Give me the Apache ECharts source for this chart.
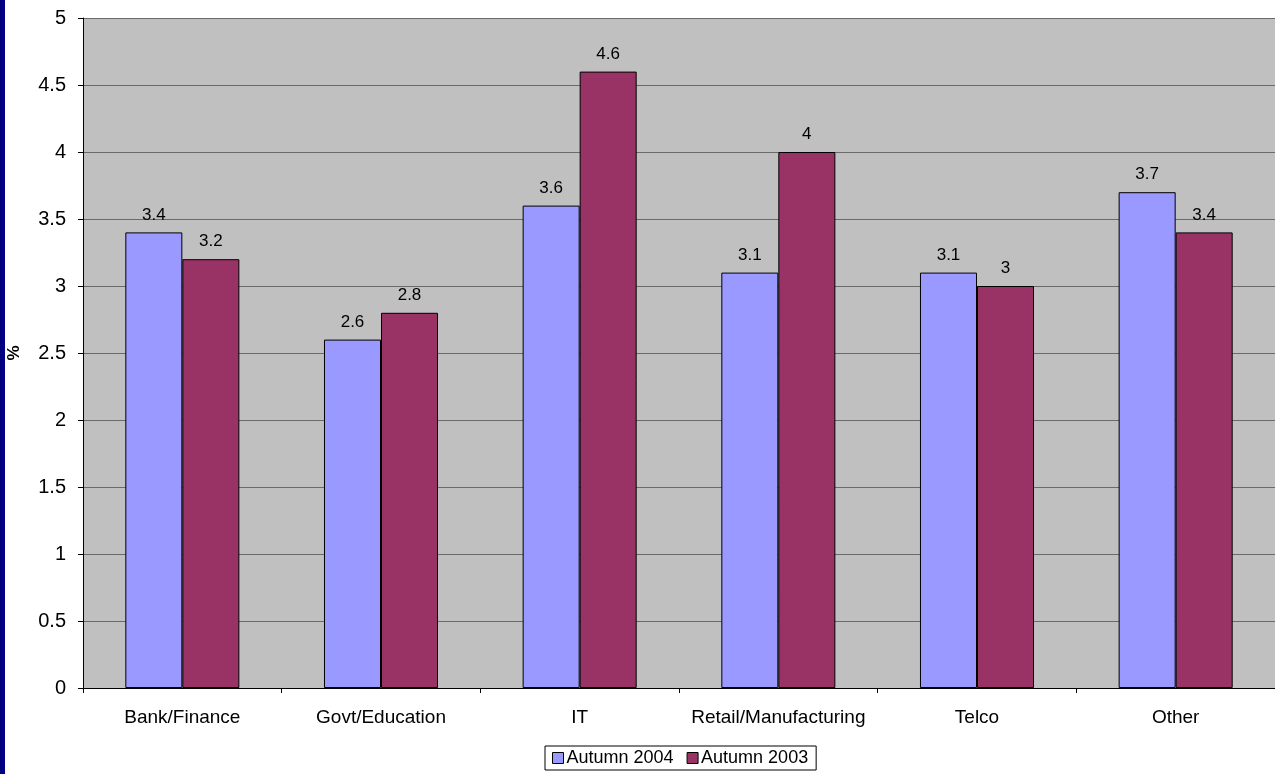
<!DOCTYPE html>
<html><head><meta charset="utf-8">
<script src="https://cdn.jsdelivr.net/npm/echarts@6/dist/echarts.min.js"></script>
<style>html,body{margin:0;padding:0;background:#fff;}#c{width:1275px;height:774px;}
#strip{position:absolute;left:0;top:0;width:5px;height:774px;background:#000080;}</style>
</head><body><div id="strip"></div><div id="c"></div>
<script>
const categories = ['Bank/Finance','Govt/Education','IT','Retail/Manufacturing','Telco','Other'];
const autumn2004 = [3.4, 2.6, 3.6, 3.1, 3.1, 3.7];
const autumn2003 = [3.2, 2.8, 4.6, 4.0, 3.0, 3.4];
const seriesNames = ['Autumn 2004','Autumn 2003'];
const yMin = 0, yMax = 5, yStep = 0.5;

const chart = echarts.init(document.getElementById('c'));
const font = 'Arial, "Liberation Sans", sans-serif';
const label = {show:true, position:'top', distance:9, color:'#000', fontFamily:font, fontSize:17};
chart.setOption({
  animation:false,
  backgroundColor:'transparent',
  grid:{left:83, right:0, top:18, bottom:86, show:true, backgroundColor:'#C0C0C0', borderWidth:0,
        containLabel:false, outerBoundsMode:'none'},
  legend:{
    data:seriesNames, left:545, top:746, orient:'horizontal',
    itemWidth:11, itemHeight:11, itemGap:13, padding:[3,8,3,7],
    borderColor:'#000', borderWidth:1, backgroundColor:'#fff',
    textStyle:{fontFamily:font, fontSize:18, color:'#000', padding:[0,0,0,-2]}, icon:'rect',
    itemStyle:{borderColor:'#000', borderWidth:1}
  },
  xAxis:{
    type:'category', data:categories,
    axisLine:{lineStyle:{color:'#000', width:1}},
    axisTick:{show:true, length:5, lineStyle:{color:'#000'}},
    axisLabel:{color:'#000', fontFamily:font, fontSize:19, margin:20, interval:0}
  },
  yAxis:{
    type:'value', min:yMin, max:yMax, interval:yStep,
    name:'%', nameLocation:'middle', nameGap:60, nameRotate:90,
    nameTextStyle:{color:'#000', fontFamily:font, fontSize:17, fontWeight:'bold'},
    axisLine:{show:true, lineStyle:{color:'#000', width:1}},
    axisTick:{show:true, length:5, lineStyle:{color:'#000'}},
    axisLabel:{color:'#000', fontFamily:font, fontSize:20, margin:17},
    splitLine:{show:true, lineStyle:{color:'#6a6a6a', width:1}}
  },
  series:[
    {name:seriesNames[0], type:'bar', data:autumn2004, barWidth:'28.7%', barGap:'0%',
     itemStyle:{color:'#9999FF', borderColor:'#000', borderWidth:1}, label:label},
    {name:seriesNames[1], type:'bar', data:autumn2003, barWidth:'28.7%',
     itemStyle:{color:'#993366', borderColor:'#000', borderWidth:1}, label:label}
  ]
});
</script></body></html>
